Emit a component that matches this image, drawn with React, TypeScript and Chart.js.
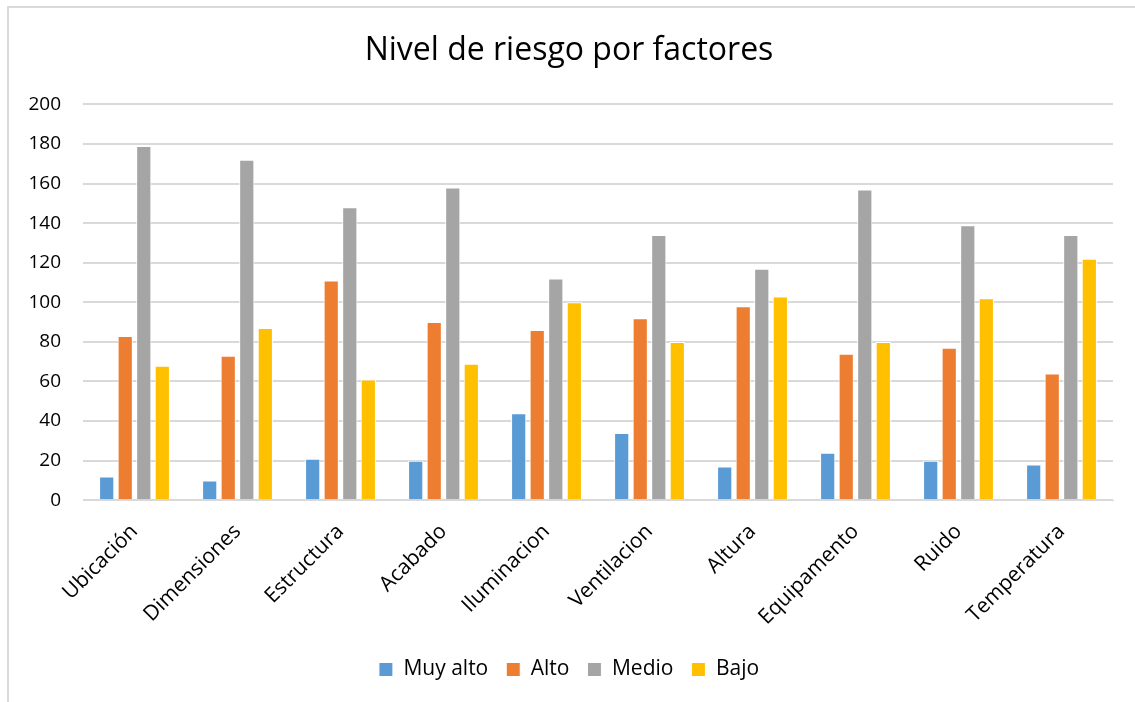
import React, { useEffect, useRef } from "react";
import { Chart, registerables } from "chart.js";

Chart.register(...registerables);

const categories = [
  "Ubicación",
  "Dimensiones",
  "Estructura",
  "Acabado",
  "Iluminacion",
  "Ventilacion",
  "Altura",
  "Equipamento",
  "Ruido",
  "Temperatura",
];

const muyAlto = [12, 10, 21, 20, 44, 34, 17, 24, 20, 18];
const alto = [83, 73, 111, 90, 86, 92, 98, 74, 77, 64];
const medio = [179, 172, 148, 158, 112, 134, 117, 157, 139, 134];
const bajo = [68, 87, 61, 69, 100, 80, 103, 80, 102, 122];

const seriesNames = ["Muy alto", "Alto", "Medio", "Bajo"];
const seriesColors = ["#5b9bd5", "#ed7d31", "#a5a5a5", "#ffc000"];

const FONT = "'Open Sans', 'Noto Sans', sans-serif";

export default function App() {
  const ref = useRef<HTMLCanvasElement>(null);

  useEffect(() => {
    if (!ref.current) return;
    const values = [muyAlto, alto, medio, bajo];
    const chart = new Chart(ref.current, {
      type: "bar",
      data: {
        labels: categories,
        datasets: values.map((v, i) => ({
          label: seriesNames[i],
          data: v,
          backgroundColor: seriesColors[i],
          borderColor: "#ffffff",
          borderWidth: 1,
          categoryPercentage: 0.72,
          barPercentage: 0.82,
        })),
      },
      options: {
        responsive: true,
        maintainAspectRatio: false,
        animation: false,
        layout: { padding: { left: 16, right: 22, top: 4, bottom: 12 } },
        plugins: {
          title: {
            display: true,
            text: "Nivel de riesgo por factores",
            color: "#000000",
            font: { family: FONT, size: 32, weight: "normal" },
            padding: { top: 20, bottom: 34 },
          },
          legend: {
            position: "bottom",
            labels: {
              color: "#000000",
              font: { family: FONT, size: 21 },
              boxWidth: 14,
              boxHeight: 14,
              padding: 18,
            },
          },
          tooltip: { enabled: false },
        },
        scales: {
          x: {
            grid: { display: false },
            border: { display: true, color: "#d9d9d9" },
            ticks: {
              color: "#000000",
              font: { family: FONT, size: 21 },
              maxRotation: 45,
              minRotation: 45,
              autoSkip: false,
              padding: 11,
            },
          },
          y: {
            min: 0,
            max: 200,
            afterFit: (scale: any) => {
              scale.width = 58;
            },
            grid: { color: "#d9d9d9", lineWidth: 2, drawTicks: false },
            border: { display: false },
            ticks: {
              stepSize: 20,
              color: "#000000",
              font: { family: FONT, size: 19 },
              padding: 22,
            },
          },
        },
      },
    });
    return () => chart.destroy();
  }, []);

  return (
    <div
      style={{
        position: "fixed",
        left: 7,
        top: 6,
        width: 1128,
        height: 696,
        boxSizing: "border-box",
        borderTop: "2px solid #d9d9d9",
        borderLeft: "2px solid #d9d9d9",
        background: "#ffffff",
      }}
    >
      <div style={{ position: "relative", width: "100%", height: "100%" }}>
        <canvas ref={ref} />
      </div>
    </div>
  );
}
